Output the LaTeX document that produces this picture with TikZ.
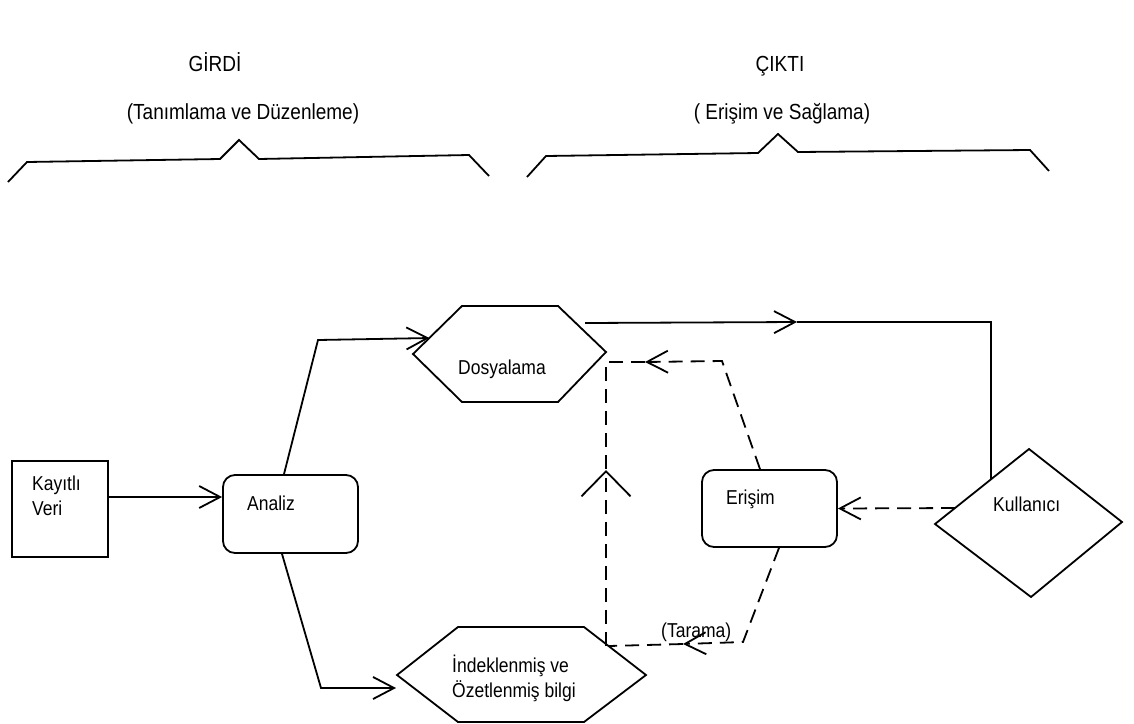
\documentclass[tikz,border=0pt]{standalone}
\usepackage{fontspec}
\setmainfont{Liberation Sans}
\usetikzlibrary{arrows.meta,calc}
\newcommand{\tall}[1]{\scalebox{1}[1.15]{#1}}
\begin{document}
\begin{tikzpicture}[x=1pt,y=-1pt,
  line/.style={line width=1.8pt, line join=miter},
  dsh/.style={line, dash pattern=on 14pt off 8pt},
  barb/.tip={Straight Barb[length=21pt,width=22pt]},
  wide/.tip={Straight Barb[length=25pt,width=49pt]},
  lbl/.style={inner sep=0pt, font=\fontsize{17.5}{21}\selectfont},
  ttl/.style={inner sep=0pt, font=\fontsize{19}{23}\selectfont},
  box/.style={draw, line, inner sep=0pt},
]
\useasboundingbox (0,0) rectangle (1134,723);

% titles
\node[ttl, anchor=base] (girdi) at (215,71) {\tall{GİRDİ}};
\node[ttl, anchor=base] (girdisub) at (243,119) {\tall{(Tanımlama ve Düzenleme)}};
\node[ttl, anchor=base] (cikti) at (780,71) {\tall{ÇIKTI}};
\node[ttl, anchor=base] (ciktisub) at (782,119) {\tall{( Erişim ve Sağlama)}};

% braces
\draw[line] (8,182) -- (27,162) -- (220,159) -- (239,140) -- (259,159) -- (469,155) -- (489,176);
\draw[line] (527,177) -- (546,156) -- (758,153) -- (778,134) -- (798,152) -- (1030,150) -- (1049,171);

% boxes
\node[box, minimum width=96pt, minimum height=96pt] (kay) at (60,509) {};
\node[lbl, anchor=base west] (kayA) at (32,490) {\tall{Kayıtlı}};
\node[lbl, anchor=base west] (kayB) at (32,515) {\tall{Veri}};

\node[box, rounded corners=12pt, minimum width=135pt, minimum height=78pt] (ana) at (290.5,514) {};
\node[lbl, anchor=base west] (anaT) at (247,510) {\tall{Analiz}};

\node[box, rounded corners=12pt, minimum width=135pt, minimum height=77pt] (eri) at (769.5,508.5) {};
\node[lbl, anchor=base west] (eriT) at (726,504) {\tall{Erişim}};

% Dosyalama hexagon
\coordinate (dosW) at (413,354);
\coordinate (dosNW) at (462,306);
\coordinate (dosNE) at (558,306);
\coordinate (dosE) at (606,352);
\coordinate (dosSE) at (558,402);
\coordinate (dosSW) at (462,402);
\draw[line] (dosW) -- (dosNW) -- (dosNE) -- (dosE) -- (dosSE) -- (dosSW) -- cycle;
\node[lbl, anchor=base] (dosT) at (502,374) {\tall{Dosyalama}};

% Indeklenmis hexagon
\coordinate (indW) at (397,675);
\coordinate (indNW) at (458,627);
\coordinate (indNE) at (584,627);
\coordinate (indE) at (646,675);
\coordinate (indSE) at (584,722);
\coordinate (indSW) at (458,722);
\draw[line] (indW) -- (indNW) -- (indNE) -- (indE) -- (indSE) -- (indSW) -- cycle;
\node[lbl, anchor=base west] (indA) at (452,672) {\tall{İndeklenmiş ve}};
\node[lbl, anchor=base west] (indB) at (452,697) {\tall{Özetlenmiş bilgi}};

% Kullanici diamond
\coordinate (kulN) at (1029,449);
\coordinate (kulE) at (1122,522);
\coordinate (kulS) at (1031,597);
\coordinate (kulW) at (935,524);
\draw[line] (kulN) -- (kulE) -- (kulS) -- (kulW) -- cycle;
\node[lbl, anchor=base west] (kulT) at (993,511) {\tall{Kullanıcı}};

% connectors
\draw[line, -{barb}] ([yshift=12pt]kay.east) -- ([yshift=17pt]ana.west);

\coordinate (a1) at (318,340);
\draw[line, -{barb}] ([xshift=-6.5pt]ana.north) -- (a1) -- ($(dosW)!0.333!(dosNW)$);

\coordinate (a2) at (321,688);
\coordinate (a3) at (396,688);
\draw[line, -{barb}] ([xshift=-8.5pt]ana.south) -- (a2) -- (a3);

\coordinate (d1) at (585,323);
\coordinate (m1) at (797,322);
\coordinate (k2) at ($(kulW)!0.596!(kulN)$);
\draw[line, -{barb}] (d1) -- (m1);
\draw[line] (m1) -- (k2 |- m1) -- (k2);

\draw[dsh, -{barb}] ($(kulW)!0.213!(kulN)$) -- (eri.east);

\coordinate (e1) at (722,361);
\coordinate (m2) at (645,362);
\coordinate (c1) at (606,362);
\coordinate (m3) at (606,470);
\coordinate (i1) at ($(indNE)!0.396!(indE)$);
\draw[dsh, -{barb}] ([xshift=-9.5pt]eri.north) -- (e1) -- (m2);
\draw[dsh] (m2) -- (c1) -- (m3);
\draw[dsh, -{wide}] (i1 -| c1) -- (m3);

\coordinate (e2) at (743,642);
\coordinate (m4) at (683,644);
\draw[dsh, -{barb}] ([xshift=9.5pt]eri.south) -- (e2) -- (m4);
\draw[dsh] (m4) -- (i1);
\node[lbl, anchor=base west] (tar) at (661,637) {\tall{(Tarama)}};
\end{tikzpicture}
\end{document}
